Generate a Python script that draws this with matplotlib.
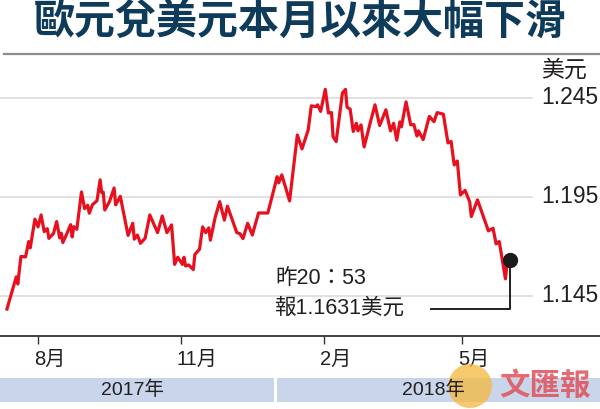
import matplotlib
matplotlib.use('Agg')
import matplotlib.pyplot as plt
import matplotlib.dates as mdates
import pandas as pd
from matplotlib.patches import Rectangle, Circle
from matplotlib.transforms import ScaledTranslation, blended_transform_factory

# EUR/USD
dates = ['2017-07-12', '2017-07-18', '2017-07-19', '2017-07-21', '2017-07-24', '2017-07-26',
         '2017-07-27', '2017-07-30', '2017-08-01', '2017-08-03', '2017-08-05', '2017-08-07',
         '2017-08-08', '2017-08-11', '2017-08-13', '2017-08-15', '2017-08-16', '2017-08-17',
         '2017-08-19', '2017-08-22', '2017-08-23', '2017-08-24', '2017-08-26', '2017-08-29',
         '2017-08-31', '2017-09-02', '2017-09-03', '2017-09-05', '2017-09-08', '2017-09-10',
         '2017-09-11', '2017-09-12', '2017-09-13', '2017-09-16', '2017-09-19', '2017-09-20',
         '2017-09-23', '2017-09-28', '2017-10-01', '2017-10-02', '2017-10-04', '2017-10-06',
         '2017-10-09', '2017-10-12', '2017-10-17', '2017-10-20', '2017-10-23', '2017-10-26',
         '2017-10-28', '2017-10-30', '2017-11-02', '2017-11-03', '2017-11-04', '2017-11-06',
         '2017-11-09', '2017-11-10', '2017-11-13', '2017-11-15', '2017-11-17', '2017-11-19',
         '2017-11-20', '2017-11-23', '2017-11-26', '2017-11-29', '2017-12-01', '2017-12-07',
         '2017-12-09', '2017-12-11', '2017-12-14', '2017-12-17', '2017-12-21', '2017-12-27',
         '2018-01-02', '2018-01-03', '2018-01-05', '2018-01-10', '2018-01-15', '2018-01-18',
         '2018-01-22', '2018-01-24', '2018-01-27', '2018-01-28', '2018-01-30', '2018-02-02',
         '2018-02-04', '2018-02-06', '2018-02-07', '2018-02-09', '2018-02-13', '2018-02-15',
         '2018-02-16', '2018-02-18', '2018-02-20', '2018-02-22', '2018-02-23', '2018-02-25',
         '2018-02-27', '2018-03-03', '2018-03-06', '2018-03-09', '2018-03-13', '2018-03-16',
         '2018-03-18', '2018-03-20', '2018-03-22', '2018-03-23', '2018-03-26', '2018-03-29',
         '2018-03-31', '2018-04-02', '2018-04-03', '2018-04-06', '2018-04-10', '2018-04-13',
         '2018-04-15', '2018-04-19', '2018-04-22', '2018-04-24', '2018-04-26', '2018-04-28',
         '2018-04-30', '2018-05-03', '2018-05-06', '2018-05-07', '2018-05-11', '2018-05-18',
         '2018-05-21', '2018-05-23', '2018-05-25', '2018-05-29', '2018-05-30', '2018-06-01']
rates = [1.1384, 1.1546, 1.1510, 1.1649, 1.1647, 1.1724,
         1.1692, 1.1837, 1.1798, 1.1858, 1.1774, 1.1789,
         1.1740, 1.1765, 1.1825, 1.1742, 1.1766, 1.1719,
         1.1753, 1.1809, 1.1747, 1.1799, 1.1786, 1.1974,
         1.1890, 1.1907, 1.1867, 1.1909, 1.1930, 1.2035,
         1.1971, 1.1973, 1.1883, 1.1925, 1.1994, 1.1909,
         1.1952, 1.1755, 1.1816, 1.1736, 1.1757, 1.1715,
         1.1741, 1.1858, 1.1769, 1.1853, 1.1769, 1.1808,
         1.1609, 1.1645, 1.1609, 1.1645, 1.1601, 1.1606,
         1.1583, 1.1659, 1.1685, 1.1798, 1.1769, 1.1793,
         1.1731, 1.1843, 1.1925, 1.1832, 1.1902, 1.1769,
         1.1764, 1.1739, 1.1816, 1.1757, 1.1868, 1.1868,
         1.2051, 1.2020, 1.2060, 1.1929, 1.2261, 1.2191,
         1.2287, 1.2408, 1.2404, 1.2413, 1.2380, 1.2491,
         1.2372, 1.2374, 1.2253, 1.2228, 1.2472, 1.2491,
         1.2401, 1.2391, 1.2279, 1.2320, 1.2282, 1.2312,
         1.2201, 1.2325, 1.2413, 1.2309, 1.2388, 1.2282,
         1.2320, 1.2235, 1.2327, 1.2302, 1.2428, 1.2312,
         1.2314, 1.2256, 1.2282, 1.2238, 1.2355, 1.2328,
         1.2374, 1.2366, 1.2221, 1.2229, 1.2110, 1.2130,
         1.1959, 1.1982, 1.1924, 1.1850, 1.1934, 1.1778,
         1.1791, 1.1712, 1.1724, 1.1536, 1.1611, 1.1631]

month_ticks = ['2017-08-01', '2017-11-01', '2018-02-01', '2018-05-01']
month_labels = ['8月', '11月', '2月', '5月']
rate_ticks = [1.145, 1.195, 1.245]
year_labels = ['2017年', '2018年']
year_split = '2018-01-01'

title = '歐元兌美元本月以來大幅下滑'
unit = '美元'
note = ['昨20：53', '報1.1631美元']

FONT = ['Liberation Sans', 'Noto Sans CJK TC', 'DejaVu Sans']
TXT = '#231f20'
W, H = 600, 409


def fy(px):
    return 1 - px / H


fig = plt.figure(figsize=(W / 100, H / 100), dpi=100)
ax = fig.add_axes([0, fy(336), 1, 276 / H])

x = mdates.date2num(pd.to_datetime(dates))
aug1 = mdates.date2num(pd.Timestamp(month_ticks[0]))
ax.set_xlim(aug1 - 38 / 1.553, aug1 + 562 / 1.553)
ax.set_ylim(1.1248, 1.2639)

for v in rate_ticks:
    ax.axhline(v, xmin=0, xmax=532 / W, color='#dcdcdc', lw=1.2, zorder=0)
    ax.text(541 / W, v, f'{v:.3f}', transform=blended_transform_factory(ax.transAxes, ax.transData),
            ha='left', va='center', fontsize=16.5, family=FONT, color=TXT)
fig.text(541 / W, fy(70), unit, ha='left', va='center', fontsize=16.5, family=FONT, color=TXT)

ax.plot(x, rates, color='#e8101e', lw=2.3, zorder=3)
ax.plot(x[-1], rates[-1], 'o', color='#1a1a1a', ms=10, zorder=4)

# leader from the last point to the note
lead = fig.dpi_scale_trans + ScaledTranslation(x[-1], rates[-1], ax.transData)
ax.plot([0, 0, -0.79], [0, -0.49, -0.49], transform=lead, color=TXT, lw=1.4,
        clip_on=False, zorder=2)
fig.text(275 / W, fy(279), note[0], ha='left', va='center', fontsize=15.5, family=FONT, color=TXT)
fig.text(275 / W, fy(308), note[1], ha='left', va='center', fontsize=15.5, family=FONT, color=TXT)

for s in ['top', 'left', 'right']:
    ax.spines[s].set_visible(False)
ax.spines['bottom'].set_color('#333333')
ax.spines['bottom'].set_linewidth(1.3)
ax.set_yticks([])
ax.set_xticks(mdates.date2num(pd.to_datetime(month_ticks)))
ax.tick_params(axis='x', direction='out', length=6, width=1, color='#333333', labelbottom=False)
for t, lab in zip(month_ticks, month_labels):
    tx = mdates.date2num(pd.Timestamp(t))
    ax.text(tx, fy(359), lab, transform=blended_transform_factory(ax.transData, fig.transFigure)
            + ScaledTranslation(-4 / 100, 0, fig.dpi_scale_trans),
            ha='left', va='center', fontsize=14.5, family=FONT, color=TXT)

# year band under the axis
band = blended_transform_factory(ax.transData, fig.transFigure)
x0, x1 = ax.get_xlim()
split = mdates.date2num(pd.Timestamp(year_split))
gap = 1.0
for (a, b), lab in zip([(x0, split - gap), (split + gap, x1)], year_labels):
    fig.add_artist(Rectangle((a, fy(402)), b - a, 24 / H, transform=band,
                             facecolor='#c9d5ea', edgecolor='none'))
    fig.text((a + b) / 2 - 3, fy(390), lab, transform=band, ha='center', va='center',
             fontsize=14, family=FONT, color=TXT)

# title and rule
fig.text(0.5, fy(22), title, ha='center', va='center', fontsize=29.5, fontweight='heavy',
         family=['Noto Sans CJK TC'], color='#0e3b5a')
fig.add_artist(plt.Line2D([4 / W, 1], [fy(54), fy(54)], color='#8c8c8c', lw=1.6))

# newspaper watermark
fig.add_artist(Circle((4.70, 4.09 - 3.86), 0.22, transform=fig.dpi_scale_trans,
                      facecolor='#f5b83d', edgecolor='none', alpha=0.75))
fig.text(545 / W, fy(386), '文匯報', ha='center', va='center', fontsize=22, fontweight='bold',
         family=['Noto Sans CJK TC'], color='#e0505a', alpha=0.85)

fig.savefig('out.png', dpi=100)
